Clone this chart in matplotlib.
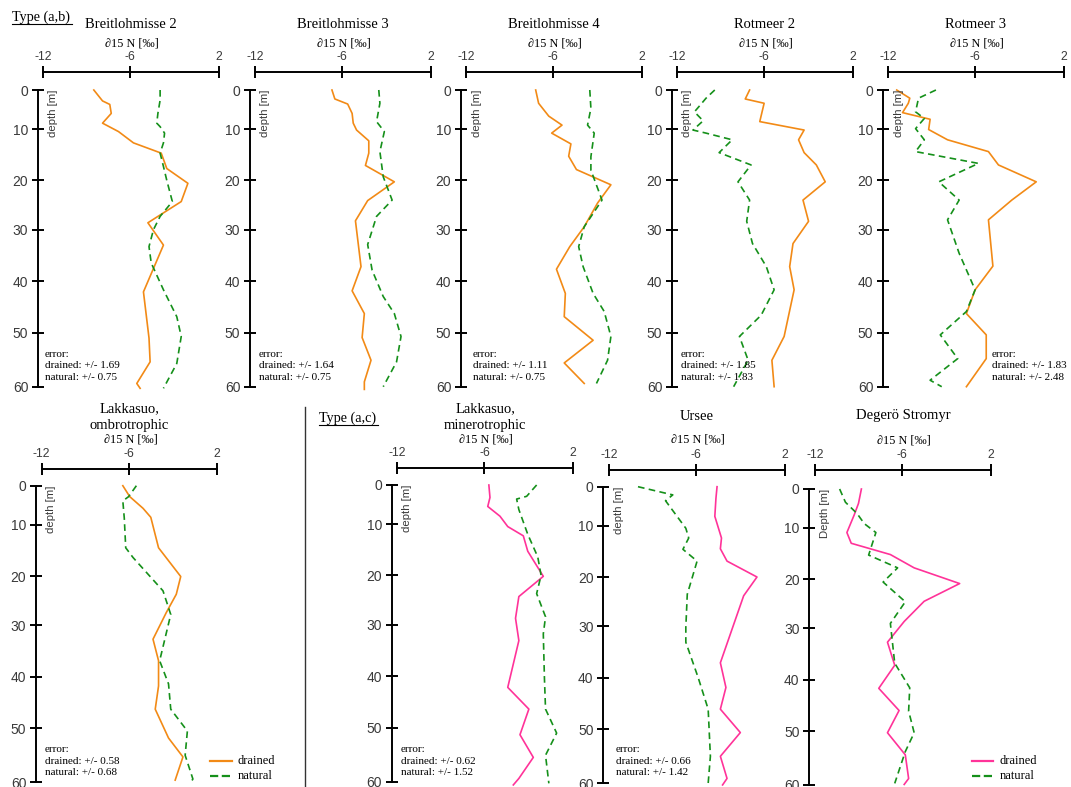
import numpy as np
import matplotlib
matplotlib.use("Agg")
import matplotlib.pyplot as plt
from matplotlib.lines import Line2D

plt.rcParams['font.family'] = ['Liberation Sans', 'DejaVu Sans']
plt.rcParams['axes.unicode_minus'] = False

W, H = 1071, 787
SERIF = ['Liberation Serif', 'DejaVu Serif']

ORANGE = '#f28a16'
PINK = '#ff3399'
GREEN = '#15901a'

# ---- data: d15N [permil] against depth ----
# Breitlohmisse 2
bl2_dr_depth = [0, 2.8, 3.7, 6.0, 8.5, 10.5, 12.7, 14.7, 17.7, 20.6, 24.3, 28.6, 33.0, 42.1, 51.0, 55.4, 59.4, 60.3]
bl2_dr_d15n = [-8.5, -7.9, -7.4, -7.3, -7.9, -6.8, -5.7, -3.2, -2.7, -0.8, -1.4, -4.4, -3.0, -4.8, -4.3, -4.2, -5.4, -5.1]
bl2_na_depth = [0, 2.6, 6.0, 8.5, 9.4, 10.8, 12.7, 14.7, 17.3, 20.0, 24.3, 27.3, 30.0, 33.3, 36.5, 41.7, 46.9, 50.7, 55.7, 60.3]
bl2_na_d15n = [-3.3, -3.3, -3.5, -3.6, -3.3, -2.9, -3.0, -3.3, -3.0, -2.7, -2.2, -3.3, -3.9, -4.3, -4.1, -3.0, -1.8, -1.4, -1.8, -3.0]
# Breitlohmisse 3
bl3_dr_depth = [0, 2.3, 3.6, 6.0, 8.5, 10.2, 12.3, 14.7, 17.1, 20.3, 24.1, 28.2, 37.2, 41.9, 46.3, 50.9, 55.1, 59.1, 60.5]
bl3_dr_d15n = [-6.7, -6.5, -5.5, -5.1, -5.0, -4.7, -3.6, -3.6, -3.9, -1.3, -3.7, -4.8, -4.3, -5.1, -4.0, -4.2, -3.4, -4.0, -4.0]
bl3_na_depth = [0, 3.4, 8.1, 10.5, 14.4, 19.3, 24.0, 27.3, 32.9, 37.9, 43.0, 46.3, 50.7, 55.4, 60.0]
bl3_na_d15n = [-2.7, -2.6, -2.9, -2.2, -2.6, -2.3, -1.5, -2.9, -3.7, -3.3, -2.3, -1.3, -0.7, -1.1, -2.3]
# Breitlohmisse 4
bl4_dr_depth = [0, 3.4, 6.7, 9.0, 10.8, 12.9, 15.3, 17.9, 20.9, 24.6, 29.4, 33.3, 37.7, 42.4, 46.9, 51.4, 55.6, 59.4]
bl4_dr_d15n = [-7.2, -7.0, -6.3, -5.2, -6.1, -4.4, -4.6, -3.9, -0.8, -2.0, -3.2, -4.5, -5.7, -4.9, -5.0, -2.4, -5.0, -3.2]
bl4_na_depth = [0, 4.7, 9.0, 10.8, 15.4, 18.0, 24.0, 29.4, 33.3, 37.2, 42.4, 45.9, 50.7, 55.1, 59.4]
bl4_na_d15n = [-2.7, -2.6, -2.9, -2.3, -2.6, -2.6, -1.6, -3.2, -3.7, -3.3, -2.4, -1.4, -0.8, -1.1, -2.1]
# Rotmeer 2
rm2_dr_depth = [0, 2.3, 3.4, 8.1, 10.2, 12.1, 14.6, 17.0, 20.3, 24.0, 28.3, 32.7, 37.2, 41.7, 50.7, 55.1, 60.0]
rm2_dr_d15n = [-7.0, -7.3, -6.0, -6.3, -2.4, -2.9, -2.4, -1.3, -0.5, -2.5, -2.0, -3.4, -3.7, -3.3, -4.2, -5.3, -5.1]
rm2_na_depth = [0, 2.1, 4.3, 5.6, 7.9, 10.2, 10.8, 12.1, 14.6, 17.0, 20.3, 24.0, 28.3, 32.7, 37.2, 41.7, 46.6, 50.7, 55.1, 60.0]
rm2_na_d15n = [-9.4, -10.0, -10.5, -10.8, -10.2, -10.9, -10.0, -8.2, -9.1, -6.9, -7.8, -7.0, -7.2, -6.8, -5.8, -5.1, -6.2, -7.7, -7.1, -8.1]
# Rotmeer 3
rm3_dr_depth = [0, 2.1, 3.4, 5.8, 7.5, 10.1, 12.1, 14.4, 17.0, 20.3, 24.0, 28.0, 37.1, 41.7, 46.3, 50.4, 54.8, 60.0]
rm3_dr_d15n = [-11.4, -10.5, -10.6, -11.0, -9.1, -9.2, -7.9, -4.8, -3.9, -0.5, -2.7, -4.8, -4.4, -6.0, -6.6, -5.0, -5.0, -6.6]
rm3_na_depth = [0, 2.1, 5.6, 7.3, 9.9, 12.1, 14.4, 16.7, 20.3, 24.0, 28.0, 34.6, 41.7, 45.9, 50.4, 54.8, 58.8, 60.0]
rm3_na_d15n = [-8.7, -9.9, -10.1, -9.5, -10.1, -9.5, -10.1, -5.7, -8.5, -7.1, -7.9, -7.1, -6.0, -6.6, -8.4, -7.2, -9.1, -8.3]
# Lakkasuo, ombrotrophic
lko_dr_depth = [0, 2.8, 5.8, 8.1, 14.5, 20.1, 23.7, 27.4, 32.7, 36.9, 41.8, 46.3, 51.8, 55.3, 59.6]
lko_dr_d15n = [-6.4, -5.9, -4.7, -4.0, -3.3, -1.3, -1.7, -2.6, -3.8, -3.3, -3.3, -3.6, -2.4, -1.1, -1.8]
lko_na_depth = [0, 2.8, 3.9, 8.3, 14.5, 16.4, 23.0, 27.8, 36.9, 41.4, 46.3, 50.5, 55.0, 59.4, 60.0]
lko_na_d15n = [-5.3, -6.0, -6.4, -6.3, -6.2, -5.6, -2.9, -2.2, -3.2, -2.4, -2.2, -0.7, -0.9, -0.2, -0.4]
# Lakkasuo, minerotrophic
lkm_dr_depth = [0, 3.2, 5.5, 8.0, 10.5, 12.3, 15.3, 20.2, 24.3, 28.7, 33.1, 42.2, 46.4, 51.3, 55.5, 59.4, 60.6]
lkm_dr_d15n = [-5.6, -5.5, -5.7, -4.6, -3.9, -2.5, -2.1, -0.7, -2.9, -3.2, -2.9, -3.9, -2.0, -2.8, -1.6, -2.9, -3.4]
lkm_na_depth = [0, 2.9, 3.6, 6.3, 12.0, 16.4, 20.0, 23.7, 28.4, 31.8, 40.3, 46.4, 51.0, 55.1, 60.3]
lkm_na_d15n = [-1.3, -2.2, -3.1, -2.9, -2.1, -1.2, -0.9, -1.3, -0.5, -0.7, -0.6, -0.5, 0.5, -0.5, -0.2]
# Ursee
urs_dr_depth = [0, 3.0, 7.6, 12.4, 14.5, 16.9, 20.0, 23.8, 37.1, 41.9, 46.1, 50.6, 55.0, 59.1, 60.3]
urs_dr_d15n = [-4.1, -4.2, -4.3, -3.7, -3.8, -3.2, -0.5, -1.7, -3.8, -3.3, -3.8, -2.0, -3.8, -3.2, -3.6]
urs_na_depth = [0, 2.1, 3.6, 10.5, 12.4, 14.6, 16.9, 23.5, 30.2, 33.1, 40.0, 46.1, 55.0, 60.0]
urs_na_d15n = [-10.0, -7.6, -8.1, -6.7, -6.5, -6.9, -5.9, -6.6, -6.7, -6.7, -5.8, -4.9, -4.7, -4.9]
# Degeroe Stromyr
deg_dr_depth = [0, 3.7, 6.7, 10.9, 13.0, 15.2, 17.8, 20.9, 24.5, 28.6, 32.7, 37.2, 41.7, 46.0, 50.3, 54.4, 58.8, 59.9]
deg_dr_d15n = [-8.8, -9.0, -9.3, -9.8, -9.5, -6.8, -4.9, -0.8, -4.0, -5.8, -7.0, -6.5, -7.6, -6.2, -7.0, -5.7, -5.4, -5.8]
deg_na_depth = [0, 3.4, 6.3, 8.9, 10.9, 15.3, 17.8, 20.6, 24.6, 29.0, 36.8, 41.6, 46.1, 50.3, 53.8, 59.7]
deg_na_d15n = [-10.3, -9.9, -9.1, -8.6, -7.8, -8.3, -6.3, -7.3, -5.7, -6.8, -6.5, -5.3, -5.4, -4.9, -5.7, -6.5]

titles = ['Breitlohmisse 2', 'Breitlohmisse 3', 'Breitlohmisse 4', 'Rotmeer 2', 'Rotmeer 3',
          'Lakkasuo,\nombrotrophic', 'Lakkasuo,\nminerotrophic', 'Ursee', 'Degerö Stromyr']
err_drained = ['1.69', '1.64', '1.11', '1.85', '1.83', '0.58', '0.62', '0.66', None]
err_natural = ['0.75', '0.75', '0.75', '1.83', '2.48', '0.68', '1.52', '1.42', None]

x_ticks = [-12, -6, 2]
depth_ticks = [0, 10, 20, 30, 40, 50, 60]

# the original axes are not evenly spaced, so use piecewise scales
x_knots = np.array([-12, -6, 2], float)
x_pos = np.array([0, 0.495, 1.0])
y_knots = np.array(depth_ticks, float)
y_pos = np.array([0, 0.1315, 0.3045, 0.4708, 0.6438, 0.818, 1.0])


def piecewise(v, xs, ys):
    v = np.asarray(v, float)
    out = np.interp(v, xs, ys)
    out = np.where(v < xs[0], ys[0] + (v - xs[0]) * (ys[1] - ys[0]) / (xs[1] - xs[0]), out)
    out = np.where(v > xs[-1], ys[-1] + (v - xs[-1]) * (ys[-1] - ys[-2]) / (xs[-1] - xs[-2]), out)
    return out


fx = (lambda v: piecewise(v, x_knots, x_pos), lambda v: piecewise(v, x_pos, x_knots))
fy = (lambda v: piecewise(v, y_knots, y_pos), lambda v: piecewise(v, y_pos, y_knots))

# layout in pixels: x of -12, x of 2, y of depth 0, y of depth 60, x of depth axis, y of top axis
layout = [
    (43, 219, 90, 386.7, 38, 72),
    (255, 431, 90, 386.7, 250, 72),
    (466, 642, 90, 386.7, 461, 72),
    (677, 853, 90, 386.7, 672, 72),
    (888, 1064, 90, 386.7, 883, 72),
    (41.7, 217.3, 485.7, 782.3, 36, 469),
    (397.3, 573.3, 485, 781.7, 391.7, 468),
    (609, 784.7, 486.7, 783.3, 603.3, 470),
    (815, 990.7, 489, 785, 809.3, 470),
]
title_y = [25, 25, 25, 25, 25, 417, 417, 417, 416]
xlabel_y = [44, 44, 44, 44, 44, 440, 440, 440, 441]
err_pos = [(45, 366), (259, 366), (473, 366), (681, 366), (992, 366),
           (45, 761), (401, 761), (616, 761), None]

series = [
    (bl2_dr_d15n, bl2_dr_depth, bl2_na_d15n, bl2_na_depth),
    (bl3_dr_d15n, bl3_dr_depth, bl3_na_d15n, bl3_na_depth),
    (bl4_dr_d15n, bl4_dr_depth, bl4_na_d15n, bl4_na_depth),
    (rm2_dr_d15n, rm2_dr_depth, rm2_na_d15n, rm2_na_depth),
    (rm3_dr_d15n, rm3_dr_depth, rm3_na_d15n, rm3_na_depth),
    (lko_dr_d15n, lko_dr_depth, lko_na_d15n, lko_na_depth),
    (lkm_dr_d15n, lkm_dr_depth, lkm_na_d15n, lkm_na_depth),
    (urs_dr_d15n, urs_dr_depth, urs_na_d15n, urs_na_depth),
    (deg_dr_d15n, deg_dr_depth, deg_na_d15n, deg_na_depth),
]

fig = plt.figure(figsize=(W / 100, H / 100), dpi=100)


def fpos(x, y):
    return x / W, 1 - y / H


handles = {}
for i, (xl, xr, y0, y60, xa, ya) in enumerate(layout):
    ax = fig.add_axes([xl / W, 1 - y60 / H, (xr - xl) / W, (y60 - y0) / H])
    ax.set_xscale('function', functions=fx)
    ax.set_yscale('function', functions=fy)
    ax.set_xlim(-12, 2)
    ax.set_ylim(60, 0)
    ax.patch.set_visible(False)
    ax.spines['right'].set_visible(False)
    ax.spines['bottom'].set_visible(False)
    ax.spines['top'].set_position(('outward', (y0 - ya) * 0.72))
    ax.spines['top'].set_bounds(-12, 2)
    ax.spines['left'].set_position(('outward', (xl - xa) * 0.72))
    ax.spines['left'].set_bounds(0, 60)
    for s in ('top', 'left'):
        ax.spines[s].set_linewidth(1.4)
    ax.xaxis.tick_top()
    ax.set_xticks(x_ticks)
    ax.set_xticklabels([str(t) for t in x_ticks])
    ax.set_yticks(depth_ticks)
    ax.set_yticklabels([str(t) for t in depth_ticks])
    ax.minorticks_off()
    ax.tick_params(axis='x', direction='inout', length=8.6, width=1.4, pad=2,
                   labelsize=8.8, labelcolor='#3a3a3a')
    ax.tick_params(axis='y', direction='inout', length=8, width=1.4, pad=3,
                   labelsize=10, labelcolor='#3a3a3a')

    dcol = ORANGE if i < 6 else PINK
    dx, dd, nx, nd = series[i]
    ld, = ax.plot(dx, dd, color=dcol, lw=1.2, clip_on=False)
    ln, = ax.plot(nx, nd, color=GREEN, lw=1.2, ls=(0, (4, 2.6)), clip_on=False)
    handles[i] = (ld, ln)

    cx = (xl + xr) / 2
    fig.text(*fpos(cx, title_y[i]), titles[i], ha='center', va='center',
             family=SERIF, fontsize=10.5, linespacing=1.45)
    fig.text(*fpos(cx + 1, xlabel_y[i]), '∂15 N [‰]', ha='center', va='center',
             family=SERIF, fontsize=8.8)
    fig.text(*fpos(xa + 15.5, y0), 'Depth [m]' if i == 8 else 'depth [m]',
             rotation=90, ha='center', va='top', fontsize=8.2, color='#3a3a3a')
    if err_pos[i] is not None:
        ex, ey = err_pos[i]
        fig.text(*fpos(ex, ey),
                 'error:\ndrained: +/- %s\nnatural: +/- %s' % (err_drained[i], err_natural[i]),
                 ha='left', va='center', family=SERIF, fontsize=8, linespacing=1.38)

# legends
for (x1, x2, xt), idx in [((210, 232, 238), 5), ((972, 993, 1000), 8)]:
    ld, ln = handles[idx]
    for (yy, h, lab) in [(761, ld, 'drained'), (776, ln, 'natural')]:
        fig.add_artist(Line2D([x1 / W, x2 / W], [1 - yy / H, 1 - yy / H], color=h.get_color(),
                              lw=1.6, ls=h.get_linestyle(), transform=fig.transFigure))
        fig.text(*fpos(xt, yy), lab, ha='left', va='center', family=SERIF, fontsize=9)

# group labels and separator
fig.text(*fpos(12, 17), 'Type (a,b)', ha='left', va='center', family=SERIF, fontsize=10.2)
fig.add_artist(Line2D([12 / W, 72 / W], [1 - 24 / H, 1 - 24 / H], color='black', lw=0.8,
                      transform=fig.transFigure))
fig.text(*fpos(319, 418), 'Type (a,c)', ha='left', va='center', family=SERIF, fontsize=10.2)
fig.add_artist(Line2D([319 / W, 378 / W], [1 - 424.5 / H, 1 - 424.5 / H], color='black', lw=0.8,
                      transform=fig.transFigure))
fig.add_artist(Line2D([304.5 / W, 304.5 / W], [1 - 407 / H, 0], color='#333333', lw=1.0,
                      transform=fig.transFigure))

fig.savefig('out.png', dpi=100)
